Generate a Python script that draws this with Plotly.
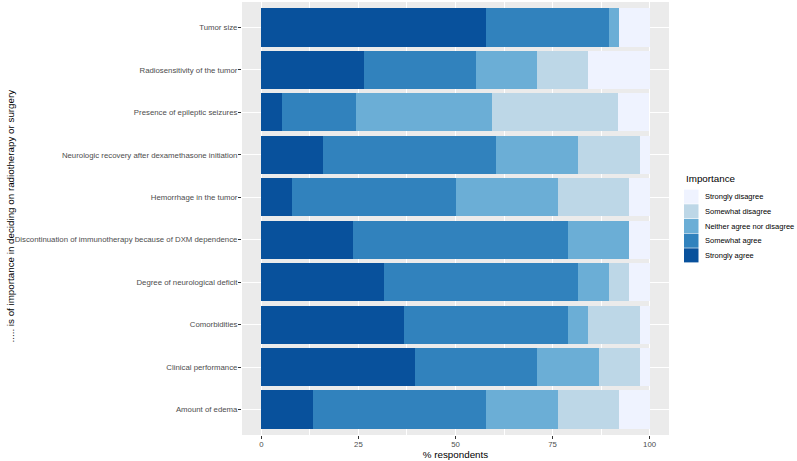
import plotly.graph_objects as go

# Categories, bottom to top
categories = [
    "Amount of edema",
    "Clinical performance",
    "Comorbidities",
    "Degree of neurological deficit",
    "Discontinuation of immunotherapy because of DXM dependence",
    "Hemorrhage in the tumor",
    "Neurologic recovery after dexamethasone initiation",
    "Presence of epileptic seizures",
    "Radiosensitivity of the tumor",
    "Tumor size",
]

# % respondents per importance level (same order as categories)
strongly_agree    = [13.2, 39.5, 36.8, 31.6, 23.7,  7.9, 15.8,  5.4, 26.3, 57.9]
somewhat_agree    = [44.7, 31.6, 42.1, 50.0, 55.3, 42.1, 44.7, 18.9, 28.9, 31.6]
neither           = [18.4, 15.8,  5.3,  7.9, 15.8, 26.3, 21.1, 35.1, 15.8,  2.6]
somewhat_disagree = [15.8, 10.5, 13.2,  5.3,  0.0, 18.4, 15.8, 32.4, 13.2,  0.0]
strongly_disagree = [ 7.9,  2.6,  2.6,  5.3,  5.3,  5.3,  2.6,  8.1, 15.8,  7.9]

levels = ["Strongly disagree", "Somewhat disagree", "Neither agree nor disagree",
          "Somewhat agree", "Strongly agree"]
colors = ["#EFF3FF", "#BDD7E7", "#6BAED6", "#3182BD", "#08519C"]
series = [strongly_disagree, somewhat_disagree, neither, somewhat_agree, strongly_agree]

x_ticks = [0, 25, 50, 75, 100]

FONT = "Liberation Sans, Arial, sans-serif"

fig = go.Figure()
# stack from left: strongly agree first
for name, col, vals in reversed(list(zip(levels, colors, series))):
    fig.add_trace(go.Bar(
        y=categories, x=vals, name=name, orientation="h",
        marker=dict(color=col, line=dict(width=0)),
        showlegend=False,
    ))

# plot area in pixels
L, R, T, B = 242, 669, 2, 435
W, H = 797, 461

def px(x):
    return (x - L) / (R - L)

def py(y):
    return (B - y) / (B - T)

shapes = []
annotations = []
# manual ggplot-like legend
annotations.append(dict(text="Importance", x=px(683.5), y=py(178.5), xref="paper", yref="paper",
                        xanchor="left", yanchor="middle", showarrow=False,
                        font=dict(family=FONT, size=9.8, color="black")))
key_top = 189.3
key_h = 14.68
for i, (name, col) in enumerate(zip(levels, colors)):
    y0 = key_top + i * key_h
    shapes.append(dict(type="rect", xref="paper", yref="paper",
                       x0=px(684), x1=px(698.5), y0=py(y0 + key_h - 0.3), y1=py(y0 + 0.3),
                       fillcolor=col, line=dict(width=0), layer="above"))
    annotations.append(dict(text=name, x=px(703.3), y=py(y0 + key_h / 2), xref="paper", yref="paper",
                            xanchor="left", yanchor="middle", showarrow=False,
                            font=dict(family=FONT, size=7.5, color="black")))

# y axis title
annotations.append(dict(text="..... is of importance in deciding on radiotherapy or surgery",
                        x=px(9.5), y=py(216), xref="paper", yref="paper",
                        textangle=-90, xanchor="center", yanchor="middle", showarrow=False,
                        font=dict(family=FONT, size=9.8, color="black")))

fig.update_layout(
    barmode="stack",
    bargap=0.1,
    width=W, height=H,
    margin=dict(l=L, r=W - R, t=T, b=H - B, pad=0),
    paper_bgcolor="white",
    plot_bgcolor="#EBEBEB",
    font=dict(family=FONT, size=7.8, color="#4D4D4D"),
    shapes=shapes,
    annotations=annotations,
    xaxis=dict(
        range=[-5, 105], tickvals=x_ticks, ticktext=[str(v) for v in x_ticks],
        showgrid=True, gridcolor="white", gridwidth=1.1,
        minor=dict(tickvals=[12.5, 37.5, 62.5, 87.5], showgrid=True, gridcolor="white", gridwidth=0.5),
        ticks="outside", ticklen=3, tickcolor="#333333", tickwidth=1,
        ticklabelstandoff=-1,
        tickfont=dict(family=FONT, size=7.8, color="#4D4D4D"),
        zeroline=False, showline=False,
        title=dict(text="% respondents", font=dict(family=FONT, size=9.8, color="black"), standoff=1),
    ),
    yaxis=dict(
        type="category", categoryorder="array", categoryarray=categories,
        range=[-0.6, 9.6],
        showgrid=True, gridcolor="white", gridwidth=1.1,
        ticks="outside", ticklen=3, tickcolor="#333333", tickwidth=1,
        ticklabelstandoff=-1,
        tickfont=dict(family=FONT, size=7.8, color="#4D4D4D"),
        zeroline=False, showline=False, automargin=False,
    ),
)

fig.write_html("out.html")
